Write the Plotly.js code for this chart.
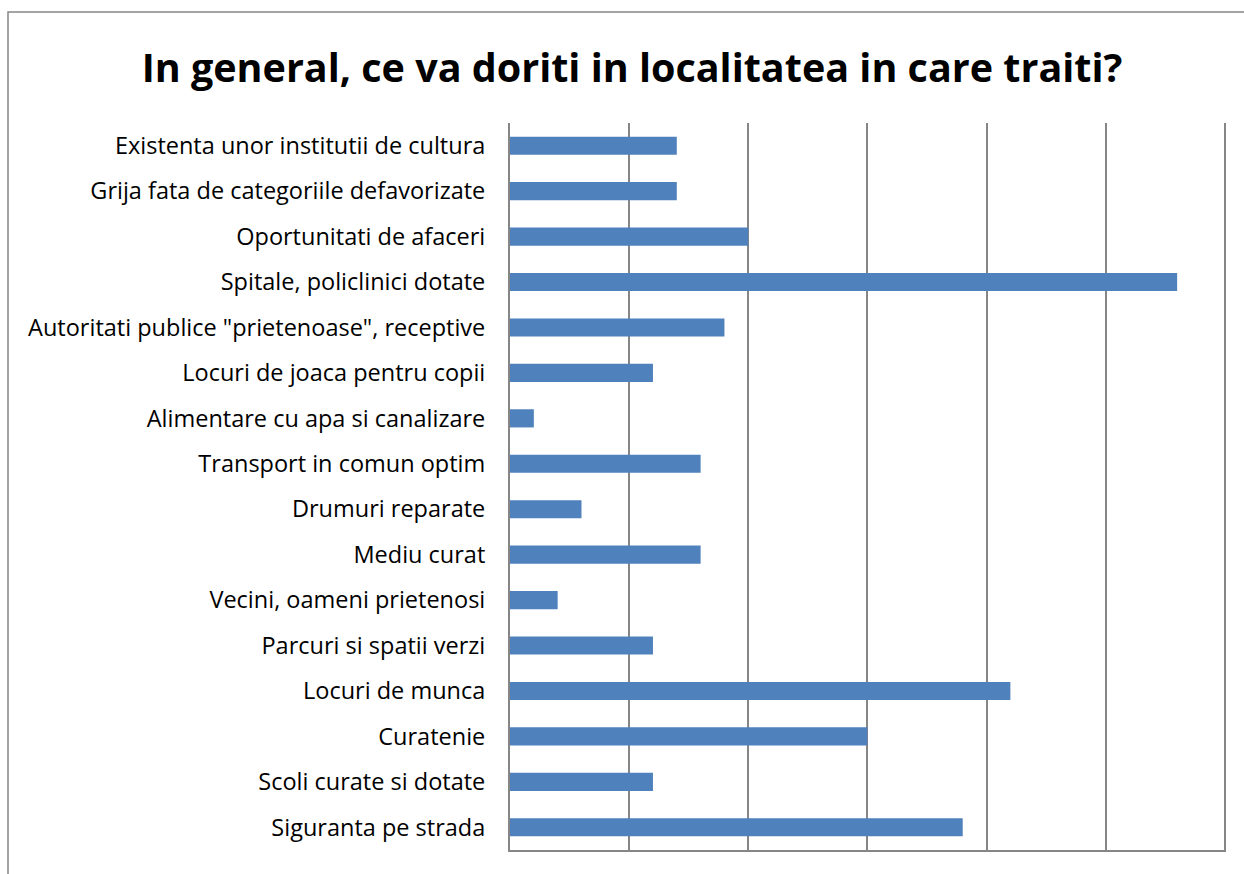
<!DOCTYPE html>
<html>
<head>
<meta charset="utf-8">
<script src="https://cdn.plot.ly/plotly-3.0.1.min.js"></script>
<style>
html,body{margin:0;padding:0;background:#fff;overflow:hidden;}
#chart{width:1244px;height:874px;}
</style>
</head>
<body>
<div id="chart"></div>
<script>
const categories = [
  "Existenta unor institutii de cultura",
  "Grija fata de categoriile defavorizate",
  "Oportunitati de afaceri",
  "Spitale, policlinici dotate",
  "Autoritati publice \"prietenoase\", receptive",
  "Locuri de joaca pentru copii",
  "Alimentare cu apa si canalizare",
  "Transport in comun optim",
  "Drumuri reparate",
  "Mediu curat",
  "Vecini, oameni prietenosi",
  "Parcuri si spatii verzi",
  "Locuri de munca",
  "Curatenie",
  "Scoli curate si dotate",
  "Siguranta pe strada"
];
const values = [1.4, 1.4, 2.0, 5.6, 1.8, 1.2, 0.2, 1.6, 0.6, 1.6, 0.4, 1.2, 4.2, 3.0, 1.2, 3.8];
const chartTitle = "In general, ce va doriti in localitatea in care traiti?";

const FONT = "'Open Sans', sans-serif";

const trace = {
  type: 'bar',
  orientation: 'h',
  y: categories,
  x: values,
  marker: {color: '#4F81BD', line: {width: 0}},
  hoverinfo: 'x+y'
};

const layout = {
  width: 1244,
  height: 874,
  paper_bgcolor: '#ffffff',
  plot_bgcolor: '#ffffff',
  margin: {l: 510, r: 18, t: 123, b: 24, pad: 0},
  bargap: 0.6,
  showlegend: false,
  font: {family: FONT, color: '#000000', size: 20},
  title: {
    text: '<b>' + chartTitle + '</b>',
    font: {family: FONT, size: 39.5, color: '#000000'},
    x: 632 / 1244, xanchor: 'center',
    y: 0.922, yanchor: 'middle',
    xref: 'container', yref: 'container'
  },
  xaxis: {
    range: [0, 6.01],
    dtick: 1,
    tick0: 0,
    showgrid: true,
    gridcolor: '#868686',
    gridwidth: 2,
    showticklabels: false,
    ticks: '',
    zeroline: false,
    showline: true,
    linecolor: '#868686',
    linewidth: 2,
    fixedrange: true
  },
  yaxis: {
    type: 'category',
    autorange: 'reversed',
    showgrid: false,
    zeroline: false,
    showline: true,
    linecolor: '#868686',
    linewidth: 2,
    ticks: '',
    ticklabelstandoff: 18,
    tickfont: {family: FONT, size: 23.5, color: '#000000'},
    fixedrange: true
  },
  shapes: [{
    type: 'rect',
    xref: 'paper', yref: 'paper',
    x0: (8 - 510) / 716, x1: 1.2,
    y0: -0.2, y1: (850 - 12) / 727,
    line: {color: '#868686', width: 1.5},
    fillcolor: 'rgba(0,0,0,0)',
    layer: 'below'
  }]
};

Plotly.newPlot('chart', [trace], layout, {displayModeBar: false, staticPlot: true});
</script>
</body>
</html>
